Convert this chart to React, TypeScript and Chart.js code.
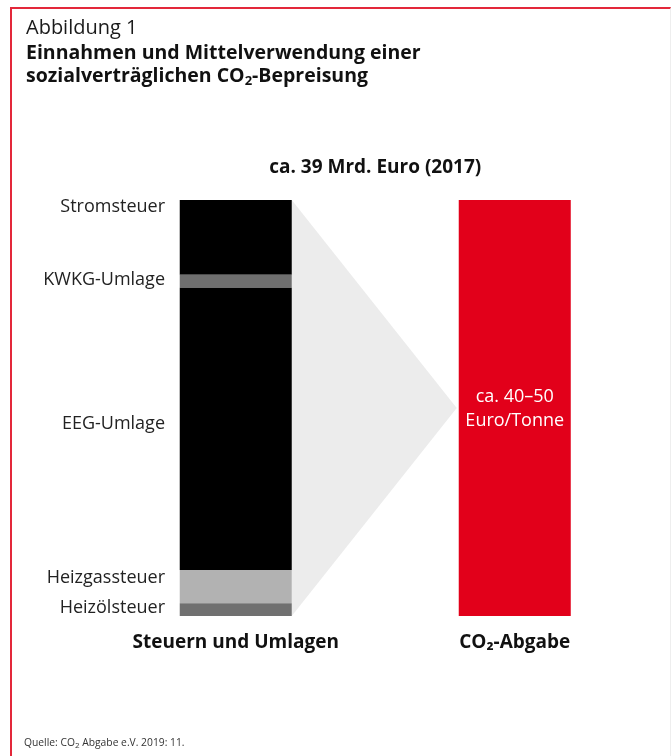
import React, { useEffect, useRef } from "react";
import { Chart, registerables } from "chart.js";

Chart.register(...registerables);

// Data (top to bottom of the left stacked bar)
const segmentLabels = ["Stromsteuer", "KWKG-Umlage", "EEG-Umlage", "Heizgassteuer", "Heizölsteuer"];
const segmentValues = [7.0, 1.2, 26.4, 3.1, 1.2]; // Mrd. Euro
const segmentLabelAnchors = [38.25, 31.4, 18.0, 3.6, 0.75]; // y-axis value where each label sits
const categories = ["Steuern und Umlagen", "", "CO₂-Abgabe"];
const co2Total = [39];
const co2Text = ["ca. 40–50", "Euro/Tonne"];
const chartTitle = "ca. 39 Mrd. Euro (2017)";

const segmentColors = ["#000000", "#6f6f6f", "#000000", "#b2b2b2", "#707070"];
const RED = "#e2001a";
const FONT = "'Open Sans', 'Noto Sans', sans-serif";

const funnelPlugin = {
  id: "funnel",
  beforeDatasetsDraw(chart: any) {
    const metaLeft = chart.getDatasetMeta(0);
    const metaRed = chart.getDatasetMeta(chart.data.datasets.length - 1);
    const lb = metaLeft.data[0] as any;
    const rb = metaRed.data[2] as any;
    if (!lb || !rb) return;
    const y = chart.scales.y;
    const total = segmentValues.reduce((a, b) => a + b, 0);
    const top = y.getPixelForValue(total);
    const bottom = y.getPixelForValue(0);
    const xl = lb.x + lb.width / 2;
    const xr = rb.x - rb.width / 2 - 2;
    const ctx = chart.ctx;
    ctx.save();
    ctx.fillStyle = "#ececec";
    ctx.beginPath();
    ctx.moveTo(xl, top);
    ctx.lineTo(xr, (top + bottom) / 2);
    ctx.lineTo(xl, bottom);
    ctx.closePath();
    ctx.fill();
    ctx.restore();
  },
  afterDatasetsDraw(chart: any) {
    const metaRed = chart.getDatasetMeta(chart.data.datasets.length - 1);
    const rb = metaRed.data[2] as any;
    if (!rb) return;
    const mid = (rb.y + rb.base) / 2;
    const ctx = chart.ctx;
    ctx.save();
    ctx.fillStyle = "#ffffff";
    ctx.font = `18px ${FONT}`;
    ctx.textAlign = "center";
    ctx.textBaseline = "middle";
    ctx.fillText(co2Text[0], rb.x, mid - 11);
    ctx.fillText(co2Text[1], rb.x, mid + 13);
    ctx.restore();
  },
};

export default function App() {
  const ref = useRef<HTMLCanvasElement>(null);
  useEffect(() => {
    if (!ref.current) return;
    const order = segmentLabels.map((_, i) => i).reverse();
    const datasets: any[] = order.map((i) => ({
      label: segmentLabels[i],
      data: [segmentValues[i], null, null],
      backgroundColor: segmentColors[i],
      borderWidth: 0,
      stack: "s",
    }));
    datasets.push({
      label: "CO₂-Abgabe",
      data: [null, null, co2Total[0]],
      backgroundColor: RED,
      borderWidth: 0,
      stack: "s",
    });
    const chart = new Chart(ref.current, {
      type: "bar",
      data: { labels: categories, datasets },
      plugins: [funnelPlugin],
      options: {
        animation: false,
        responsive: false,
        devicePixelRatio: 1,
        layout: { padding: { left: 6, right: 86.5, top: 100, bottom: 100 } },
        datasets: { bar: { categoryPercentage: 1, barPercentage: 0.803 } },
        plugins: {
          legend: { display: false },
          tooltip: { enabled: false },
          title: {
            display: true,
            text: chartTitle,
            fullSize: false,
            color: "#111",
            font: { family: FONT, size: 19, weight: "bold" },
            padding: { top: 56.6, bottom: 20.6 },
          },
        },
        scales: {
          x: {
            stacked: true,
            grid: { display: false, drawTicks: false },
            border: { display: false },
            ticks: { autoSkip: false, color: "#111", padding: 15, font: { family: FONT, size: 19, weight: "bold" }, maxRotation: 0, minRotation: 0 },
            afterFit: (s: any) => { s.height = 40; },
          },
          y: {
            stacked: true,
            min: 0,
            max: segmentValues.reduce((a, b) => a + b, 0),
            grid: { display: false, drawTicks: false },
            border: { display: false },
            afterBuildTicks: (s: any) => { s.ticks = segmentLabelAnchors.map((v) => ({ value: v })); },
            ticks: {
              autoSkip: false,
              padding: 1,
              color: "#222",
              font: { family: FONT, size: 18 },
              callback: (_v: any, i: number) => segmentLabels[i],
            },
            afterFit: (s: any) => { s.width = 160; },
          },
        },
      },
    });
    return () => chart.destroy();
  }, []);

  return (
    <div style={{ position: "fixed", left: 0, top: 0, width: 671, height: 756, background: "#fff", overflow: "hidden", fontFamily: FONT }}>
      <div style={{ position: "absolute", left: 10, top: 7, width: 658, height: 800, borderTop: "2px solid #e3283a", borderLeft: "2px solid #e3283a", borderRight: "1px solid #eeeeee" }} />
      <canvas ref={ref} width={671} height={756} style={{ position: "absolute", left: 0, top: 0 }} />
      <div style={{ position: "absolute", left: 26, top: 15, color: "#1a1a1a", fontSize: 20, lineHeight: "24px" }}>Abbildung 1</div>
      <div style={{ position: "absolute", left: 26, top: 40, color: "#111", fontSize: 19.5, fontWeight: "bold", lineHeight: "23px" }}>
        Einnahmen und Mittelverwendung einer<br />sozialverträglichen CO<sub style={{ fontSize: 13, verticalAlign: "-3px", lineHeight: 0 }}>2</sub>-Bepreisung
      </div>
      <div style={{ position: "absolute", left: 24, top: 735, color: "#333", fontSize: 10.3, lineHeight: "14px" }}>
        Quelle: CO<sub style={{ fontSize: 8, verticalAlign: "-2px", lineHeight: 0 }}>2</sub> Abgabe e.V. 2019: 11.
      </div>
    </div>
  );
}
